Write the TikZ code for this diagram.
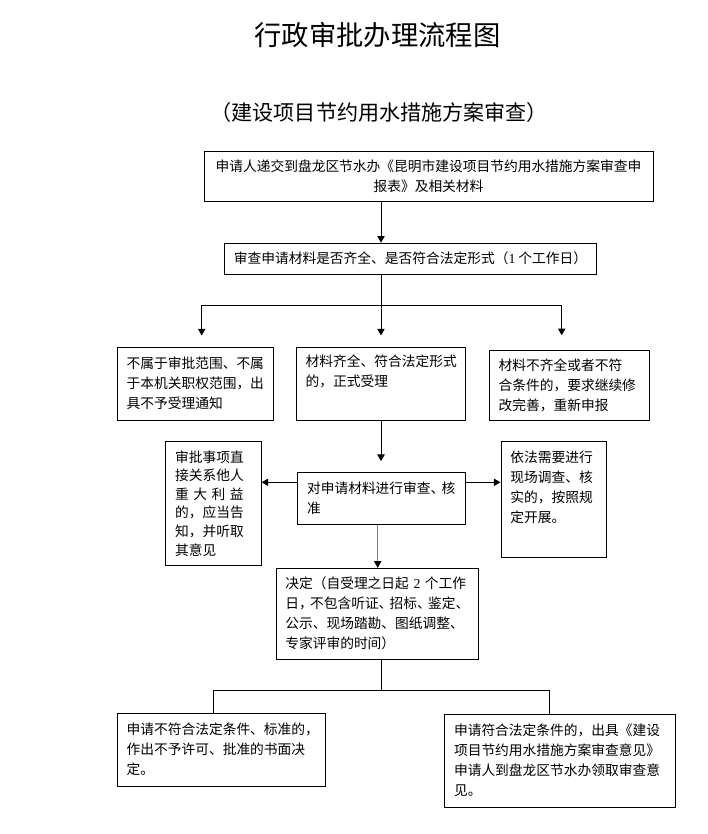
\documentclass[tikz,border=0pt]{standalone}
\usepackage{fontspec}
\setmainfont{Noto Sans CJK SC}
\newfontfamily\lat{Liberation Serif}
\usetikzlibrary{arrows.meta}
% squeezed punctuation for the tight lines
\newcommand{\hp}[1]{\makebox[.8em][l]{#1}}

\begin{document}
\begin{tikzpicture}[x=0.75pt,y=-0.75pt,
	box/.style={draw, line width=0.75pt, inner xsep=7pt, inner ysep=2pt, align=left,
		font=\fontsize{10.3pt}{15pt}\selectfont},
	ln/.style={line width=0.75pt},
	arr/.style={line width=0.75pt, -{Triangle[length=5pt,width=5.5pt]}},
	garr/.style={line width=0.75pt, draw=black!50, -{Triangle[length=5pt,width=5.5pt,color=black]}}]
	\useasboundingbox (0,0) rectangle (707,834);

	\node (title) at (377.5,35) {\fontsize{20.5pt}{24pt}\selectfont 行政审批办理流程图};
	\node (subtitle) at (379.2,112) {\fontsize{15.8pt}{19pt}\selectfont （建设项目节约用水措施方案审查）};

	\node[box, text width=322.75pt, minimum height=37.5pt, align=center] (apply) at (428.5,176.3) {申请人递交到盘龙区节水办《昆明市建设项目节约用水措施方案审查申\\报表》及相关材料};
	\node[box, minimum width=278.25pt, minimum height=23.25pt, align=center] (check) at (410.5,258.7) {审查申请材料是否齐全、是否符合法定形式（{\lat 1} 个工作日）};

	\node[box, text width=103pt, minimum height=54.5pt] (reject) at (195.3,383.7) {不属于审批范围、不属\\于本机关职权范围，出\\具不予受理通知};
	\node[box, text width=112.5pt, minimum height=54.75pt] (accept) at (380.7,383.5) {材料齐全、符合法定形式\\的，正式受理\\ \strut};
	\node[box, text width=106pt, minimum height=52.5pt] (supp) at (569.3,385) {材料不齐全或者不符\\合条件的，要求继续修\\改完善，重新申报};

	\node[box, text width=57.5pt, minimum height=92.5pt, font=\fontsize{10.3pt}{13.9pt}\selectfont] (hear) at (213.4,503.4) {审批事项直\\接关系他人\\\makebox[5em][s]{重 大 利 益}\\的，应当告\\知，并听取\\其意见};
	\node[box, text width=111.5pt, minimum height=39pt] (review) at (381.4,498.3) {对申请材料进行审查\hp{、}核\\准};
	\node[box, text width=65.3pt, minimum height=87pt] (survey) at (553.9,499.7) {依法需要进行\\现场调查、核\\实的，按照规\\定开展。\\ \strut};

	\node[box, text width=137.5pt, minimum height=68pt] (decide) at (377,613.7) {决定（自受理之日起{\lat\ 2 }个工作\\日\hp{，}不包含听证\hp{、}招标\hp{、}鉴定\hp{、}\\公示、现场踏勘、图纸调整、\\专家评审的时间）};

	\node[box, text width=142.3pt, minimum height=54.5pt] (deny) at (221.5,749.7) {申请不符合法定条件、标准的\hp{，}\\作出不予许可、批准的书面决\\定。};
	\node[box, text width=159.25pt, minimum height=70pt] (grant) at (560.2,760.7) {申请符合法定条件的，出具《建设\\项目节约用水措施方案审查意见》\\申请人到盘龙区节水办领取审查意\\见。};

	% spine and forks
	\coordinate (ax) at (381,0);
	\coordinate (axb) at (377.7,0);
	\coordinate (fl) at (201.7,305.3);
	\coordinate (fr) at (561.7,305.3);
	\coordinate (side) at (0,482.3);
	\coordinate (bl) at (213.3,690.3);
	\coordinate (br) at (549,690.3);

	\draw[arr] (apply.south -| ax) -- (check.north -| ax);
	\draw[arr, shorten >=8.3pt] (check.south -| ax) -- (accept.north -| ax);
	\draw[ln] (fl) -- (fr);
	\draw[arr, shorten >=8.5pt] (fl) -- (fl |- reject.north);
	\draw[arr, shorten >=10.7pt] (fr) -- (fr |- supp.north);
	\draw[arr, shorten >=8pt] (accept.south -| ax) -- (review.north -| ax);
	\draw[arr] (review.west |- side) -- (hear.east |- side);
	\draw[arr] (review.east |- side) -- (survey.west |- side);
	\draw[garr] (review.south -| axb) -- (decide.north -| axb);
	\draw[ln] (decide.south -| ax) -- (ax |- bl);
	\draw[ln] (bl |- deny.north) -- (bl) -- (br) -- (br |- grant.north);
\end{tikzpicture}
\end{document}
